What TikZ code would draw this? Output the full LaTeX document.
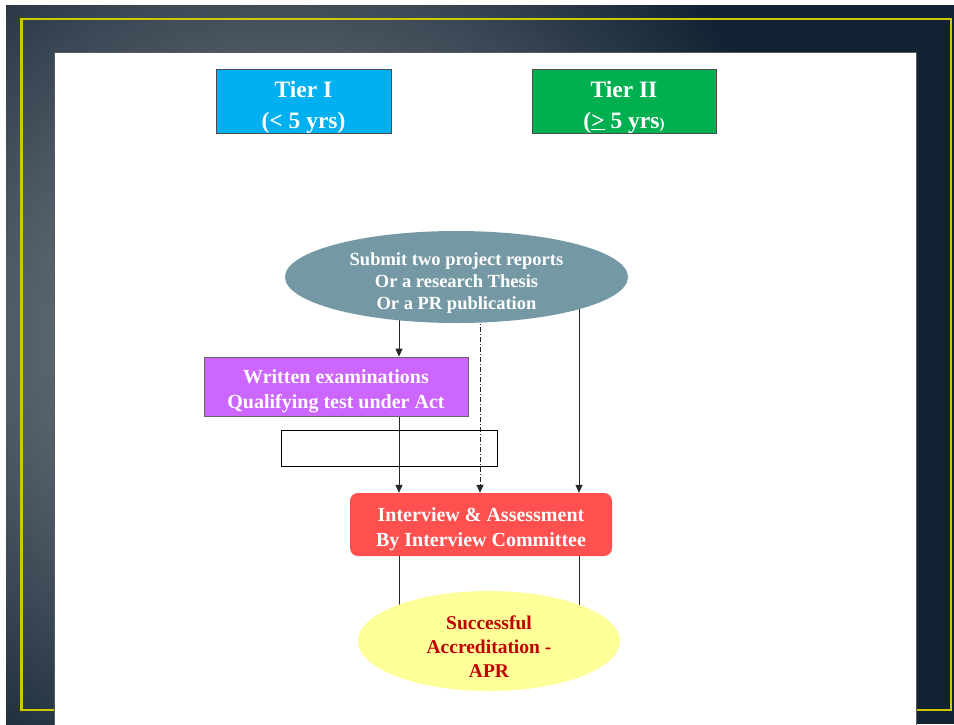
\documentclass[tikz,border=0pt]{standalone}
\usepackage{fontspec}
\setmainfont{Liberation Serif}
\usetikzlibrary{shapes.geometric,arrows.meta}
\pgfdeclarelayer{bgzero}
\pgfdeclarelayer{bgone}
\pgfsetlayers{bgzero,bgone,main}
\definecolor{bgdark}{RGB}{18,34,50}
\definecolor{bglight}{RGB}{140,148,154}
\definecolor{frameyel}{RGB}{205,200,0}
\definecolor{tierone}{HTML}{00B0F0}
\definecolor{tiertwo}{HTML}{00B050}
\definecolor{subcol}{HTML}{7599A4}
\definecolor{writcol}{HTML}{CC66FF}
\definecolor{intcol}{HTML}{FF5050}
\definecolor{succol}{HTML}{FFFF99}
\definecolor{redtxt}{HTML}{C00000}
\tikzset{
  tierbox/.style={draw=black!70, line width=0.8pt, inner sep=0pt},
  tiertext/.style={inner sep=0pt, align=center, text=white, font=\bfseries\fontsize{23.5}{31}\selectfont},
  flowtext/.style={inner sep=0pt, align=center, text=white, font=\bfseries\fontsize{20}{25}\selectfont},
  conn/.style={line width=1pt, black!85},
  arr/.style={conn, -{Triangle[length=8pt,width=7pt]}},
}
\begin{document}
\begin{tikzpicture}[x=1pt,y=-1pt]
\useasboundingbox (0,0) rectangle (954,724);
% background
\begin{pgfonlayer}{bgzero}
\fill[white] (0,0) rectangle (954,724);
\fill[bgdark] (6,5) rectangle (954,724);
\begin{scope}
\clip (6,5) rectangle (954,724);
\shade[inner color=bglight, outer color=bgdark] (280,340) circle (540);
\end{scope}
\draw[frameyel, line width=2.4pt] (21.5,19) rectangle (951,710);
\fill[white] (54,52) rectangle (916,726);
\draw[black!65, line width=1pt] (54,726) -- (54,52) -- (916,52) -- (916,726);
\end{pgfonlayer}
% tiers
\node[tierbox, fill=tierone, minimum width=175, minimum height=64] (tier1) at (303.5,101) {};
\node[tiertext] (tier1txt) at (303.5,107) {Tier I\\(< 5 yrs)};
\node[tierbox, fill=tiertwo, minimum width=184, minimum height=64] (tier2) at (624,101) {};
\node[tiertext] (tier2txt) at (624,107) {Tier II\\(\underline{>} 5 yrs{\fontsize{15}{15}\selectfont)}};
% submit ellipse
\node[ellipse, fill=subcol, minimum width=343, minimum height=92, inner sep=0pt] (sub) at (456.5,277) {};
\node[flowtext, font=\bfseries\fontsize{18.5}{22}\selectfont] (subtxt) at (456.5,283) {Submit two project reports\\Or a research Thesis\\Or a PR publication};
% written
\node[fill=writcol, draw=black!60, line width=0.8pt, minimum width=264, minimum height=59, inner sep=0pt] (writ) at (336,386.5) {};
\node[flowtext] (writtxt) at (336,391) {Written examinations\\Qualifying test under Act};
% empty box
\node[draw=black, line width=0.8pt, minimum width=216, minimum height=36, inner sep=0pt] (empty) at (389,448) {};
% interview
\node[fill=intcol, rounded corners=8pt, minimum width=262, minimum height=63, inner sep=0pt] (intv) at (481,524.5) {};
\node[flowtext] (intvtxt) at (481,529) {Interview \& Assessment\\By Interview Committee};
% success
\node[ellipse, fill=succol, minimum width=262, minimum height=100, inner sep=0pt] (succ) at (489,641) {};
\node[flowtext, text=redtxt, font=\bfseries\fontsize{19.5}{24}\selectfont] (succtxt) at (489,647) {Successful\\Accreditation -\\APR};
% connectors
\coordinate (ca) at (399,0);
\coordinate (cb) at (480,0);
\coordinate (cc) at (579,0);
\begin{pgfonlayer}{bgone}
\draw[arr] (sub.center -| ca) -- (writ.north -| ca);
\draw[arr] (writ.south -| ca) -- (intv.north -| ca);
\draw[arr, dash pattern=on 5pt off 2pt on 1pt off 2pt] (sub.center -| cb) -- (intv.north -| cb);
\draw[arr] (sub.center -| cc) -- (intv.north -| cc);
\draw[conn] (intv.center -| ca) -- (succ.center -| ca);
\draw[conn] (intv.center -| cc) -- (succ.center -| cc);
\end{pgfonlayer}
\end{tikzpicture}
\end{document}
